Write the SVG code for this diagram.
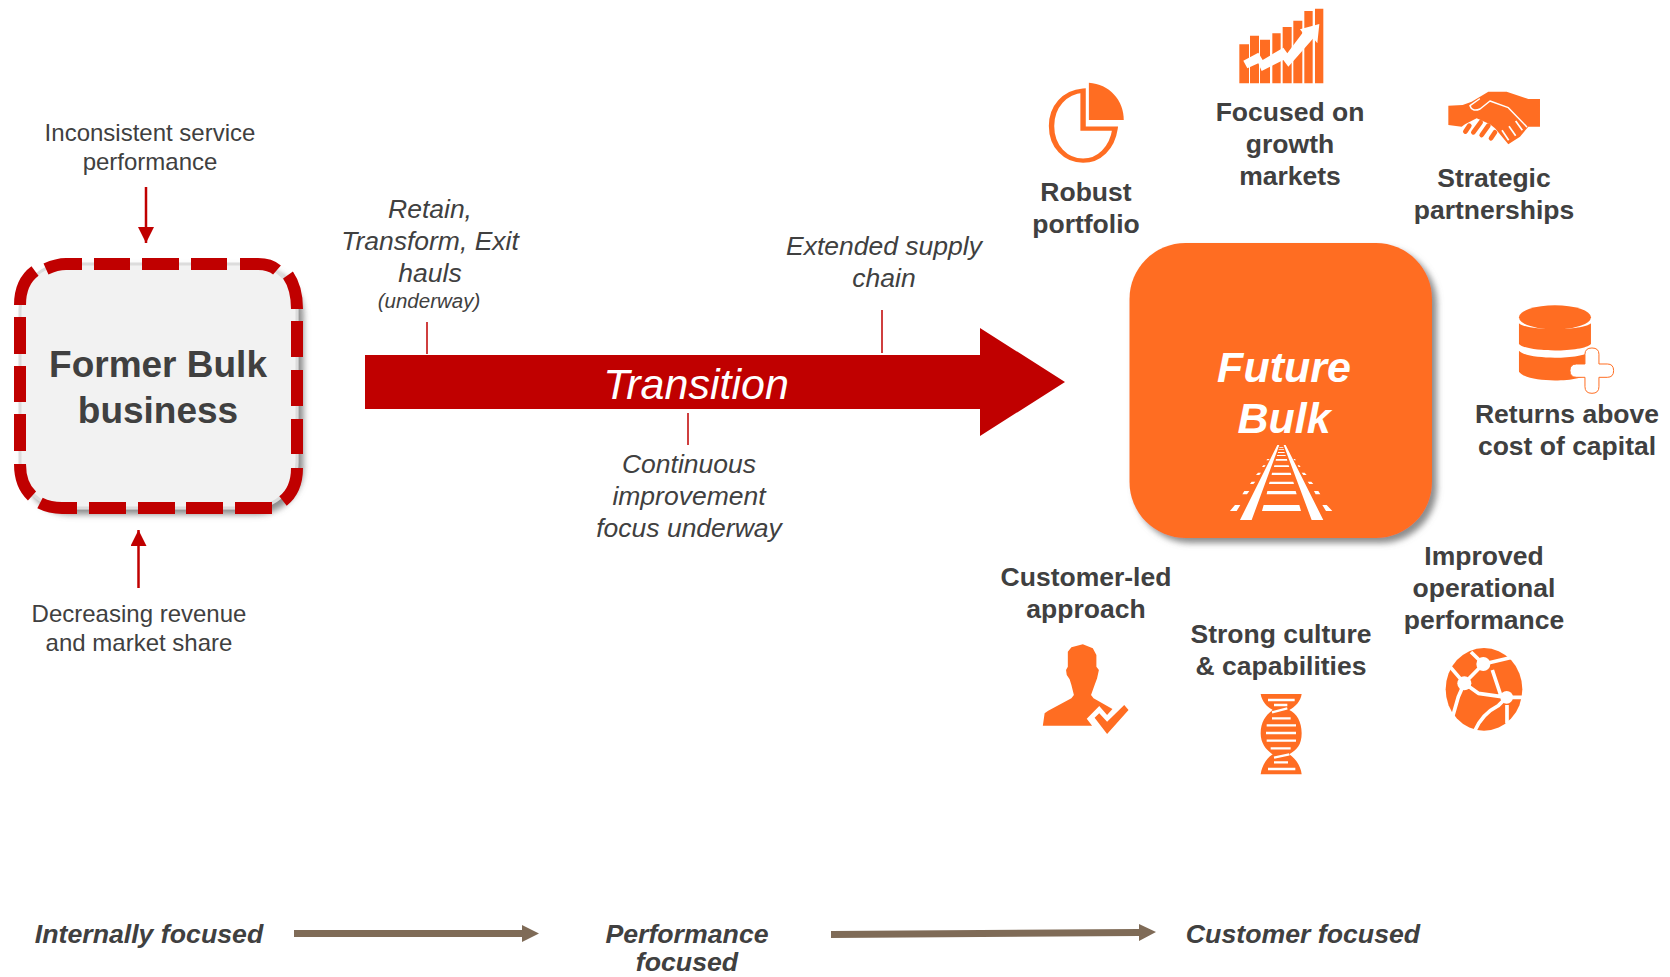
<svg xmlns="http://www.w3.org/2000/svg" width="1670" height="977" viewBox="0 0 1670 977">
<style>
text{font-family:"Liberation Sans",Arial,sans-serif;text-anchor:middle;fill:#404040}
.n{font-size:24px}
.b{font-size:26.500px;font-weight:bold}
.i{font-size:26.500px;font-style:italic}
.f{font-size:26.700px;font-weight:bold;font-style:italic}
.o{fill:#ff6d22}
.w{fill:none;stroke:#fff;stroke-linejoin:round}
.tick{stroke:#c00000;stroke-width:1.5;fill:none}
.red{stroke:#c00000;stroke-width:2.5;fill:none;marker-end:url(#rh)}
.brown{fill:#7f6b57}
</style>
<defs>
<filter id="sh" x="-10%" y="-10%" width="125%" height="125%"><feDropShadow dx="5" dy="5" stdDeviation="3" flood-color="#6f6f6f" flood-opacity=".8"/></filter>
<marker id="rh" markerUnits="userSpaceOnUse" markerWidth="18" markerHeight="16" refX="16" refY="8" orient="auto"><path d="M0 0L16 8L0 16Z" fill="#c00000"/></marker>
</defs>
<rect width="1670" height="977" fill="#fff"/>

<g id="former-bulk">
<rect x="20" y="264" width="277" height="244" rx="46" fill="#f2f2f2" stroke="#dcdcdc" stroke-width="3" filter="url(#sh)"/>
<path fill="none" stroke="#c00000" stroke-width="12" d="M46 269Q57 264 66 264H82M94 264H130M142 264H179M191 264H227M240 264H258Q270 264 277 270M288 275Q297 288 297 309M297 321V357M297 370V406M297 419V454M297 468Q297 490 283 501M272 508H235M223 508H186M175 508H138M126 508H89M77 508H62Q50 508 40 503M32 496Q20 485 20 464M20 451V414M20 402V366M20 354V317M20 305Q20 282 35 271"/>
<text x="158" y="377" font-size="37" font-weight="bold">Former Bulk</text>
<text x="158" y="423" font-size="37" font-weight="bold">business</text>
</g>

<g id="connectors">
<path class="red" d="M146 187V243"/>
<path class="red" d="M138.500 588V530"/>
<path class="tick" d="M427 322V354M882 310V353M688 413V445"/>
<path class="brown" d="M294 930H522V925L539 933.500L522 942V937H294Z"/>
<path class="brown" d="M831 931L1139 929V924L1156 932L1139 941V936L831 938Z"/>
</g>

<g id="transition">
<path fill="#c00000" d="M365 355H980V328L1065 382L980 436V409H365Z"/>
<text x="696" y="399" font-size="43" font-style="italic" style="fill:#fff">Transition</text>
</g>

<g id="label-inconsistent"><text class="n" x="150" y="141">Inconsistent service</text><text class="n" x="150" y="170">performance</text></g>
<g id="label-decreasing"><text class="n" x="139" y="622">Decreasing revenue</text><text class="n" x="139" y="651">and market share</text></g>
<g id="label-retain"><text class="i" x="430" y="218">Retain,</text><text class="i" x="430" y="250">Transform, Exit</text><text class="i" x="430" y="282">hauls</text><text x="429" y="308" font-size="20.500" font-style="italic">(underway)</text></g>
<g id="label-extended"><text class="i" x="884" y="255">Extended supply</text><text class="i" x="884" y="287">chain</text></g>
<g id="label-continuous"><text class="i" x="689" y="473">Continuous</text><text class="i" x="689" y="505">improvement</text><text class="i" x="689" y="537">focus underway</text></g>

<g id="future-bulk">
<rect x="1129.500" y="243" width="302.500" height="295" rx="56" class="o" filter="url(#sh)"/>
<text x="1284" y="382" font-size="43" font-weight="bold" font-style="italic" style="fill:#fff">Future</text>
<text x="1284" y="433" font-size="43" font-weight="bold" font-style="italic" style="fill:#fff">Bulk</text>
<g transform="translate(1130 230) scale(.3333)" fill="#fff">
<path d="M442 645H448L365 870H330ZM461 645H467L580 870H545Z"/>
<path d="M401 825H508L513 843H396ZM412 783H497L500 793H410ZM419 755H490L492 762H417ZM426 728H482L484 735H425ZM433 706H476L478 711H432ZM438 687H471L472 692H437ZM441 675H467V678H441ZM444 666H464V669H444ZM446 658H462V660H446ZM448 651H460V653H448Z"/>
<path d="M315 825H331L320 843H300ZM577 825H590L607 843H588ZM343 783H358L351 793H337ZM552 783H565L571 793H557ZM365 755H376L370 762H360ZM533 755H544L550 762H538ZM384 728H393L388 735H378ZM515 728H524L530 735H520ZM400 706H407L403 711H396ZM503 706H508L512 711H506ZM412 687H419L416 691H409ZM490 687H495L498 691H493Z"/>
</g>
</g>

<g id="robust-portfolio">
<g transform="translate(1020 0) scale(.415 .3333)">
<path class="o" d="M166 248C215 252 250 300 250 360H166Z"/>
<path fill="none" stroke="#ff6d22" stroke-width="13" d="M152 272V386H229C222 445 190 482 152 482C110 482 76 440 76 378C76 320 108 276 152 272Z"/>
</g>
<text class="b" x="1086" y="201">Robust</text><text class="b" x="1086" y="233">portfolio</text>
</g>

<g id="growth-markets">
<g transform="translate(1230 0) scale(.3333)">
<path class="o" d="M28 133H57V250H28ZM60 107H87V250H60ZM90 119H120V250H90ZM127 100H152V250H127ZM158 81H185V250H158ZM190 62H217V250H190ZM223 33H248V250H223ZM255 26H280V250H255Z"/>
<path fill="#fff" d="M40 182L85 158L98 180L160 143L172 160L218 98L210 88L268 72L262 130L250 115L175 200L160 180L95 213L85 190L52 205Z"/>
</g>
<text class="b" x="1290" y="121">Focused on</text><text class="b" x="1290" y="153">growth</text><text class="b" x="1290" y="185">markets</text>
</g>

<g id="partnerships">
<g transform="translate(1440 85) scale(.3333)">
<path class="o" d="M25 62L68 60L95 50L145 20H200L265 42H300V125H265L240 155L205 178L165 130L150 118L110 100L75 118L65 125L25 120Z"/>
<path fill="none" stroke="#ff6d22" stroke-width="14" stroke-linecap="round" d="M76 140L88 122M100 142L122 112M125 150L145 122M153 160L165 142"/>
<path fill="none" stroke="#fff" stroke-width="4.500" stroke-linecap="round" stroke-linejoin="round" d="M260 125L205 68L150 48L120 72Q96 82 90 62L118 42"/>
<path fill="none" stroke="#fff" stroke-width="5" d="M227 108L247 136M207 124L227 152M186 136L206 166"/>
</g>
<text class="b" x="1494" y="187">Strategic</text><text class="b" x="1494" y="219">partnerships</text>
</g>

<g id="returns">
<g transform="translate(1130 230) scale(.3333)">
<ellipse class="o" cx="1275" cy="262" rx="108" ry="36"/>
<path class="o" d="M1167 280C1190 303 1360 303 1383 280V342C1360 368 1190 368 1167 342Z"/>
<path class="o" d="M1167 362C1190 390 1360 390 1383 362V425C1360 460 1190 460 1167 425Z"/>
<path fill="#fff" stroke="#ff6d22" stroke-width="3" d="M1365 373Q1365 354 1386 354Q1407 354 1407 373V402H1432Q1451 402 1451 422Q1451 442 1432 442H1407V470Q1407 490 1386 490Q1365 490 1365 470V442H1340Q1320 442 1320 422Q1320 402 1340 402H1365Z"/>
</g>
<text class="b" x="1567" y="423">Returns above</text><text class="b" x="1567" y="455">cost of capital</text>
</g>

<g id="operational">
<g transform="translate(1435 640) scale(.3333)">
<ellipse class="o" cx="147" cy="148" rx="115" ry="124"/>
<path class="w" stroke-width="11" d="M108 36L145 72L175 65L238 50M145 72L88 130L45 80M88 130L70 170L50 240M88 130L130 160L215 172L270 172M172 90L197 165M215 172L190 197C160 212 135 235 118 275M216 195V250"/>
<circle cx="145" cy="72" r="21" fill="#fff"/><circle cx="88" cy="130" r="21" fill="#fff"/><circle cx="215" cy="172" r="19" fill="#fff"/>
</g>
<text class="b" x="1484" y="565">Improved</text><text class="b" x="1484" y="597">operational</text><text class="b" x="1484" y="629">performance</text>
</g>

<g id="culture">
<g transform="translate(1250 685) scale(.3333)">
<path class="o" d="M32 27H155C152 50 135 65 118 75C140 85 155 110 155 145C155 180 140 195 118 208C135 220 152 240 155 268H32C36 240 50 220 68 208C48 195 32 175 32 145C32 110 48 90 68 75C50 65 36 50 32 27Z"/>
<path fill="none" stroke="#fff" stroke-width="7" d="M54 45H134M72 60H112M66 82L112 70M66 100H122M50 121H138M48 144H138M50 167H138M62 190H122M72 218L118 208M72 232H114M54 252H136"/>
</g>
<text class="b" x="1281" y="643">Strong culture</text><text class="b" x="1281" y="675">&amp; capabilities</text>
</g>

<g id="customer-led">
<g transform="translate(1000 620) scale(.357 .3333)">
<path class="o" d="M120 317L125 280L135 272L200 235L207 225L200 195L195 178L187 165L185 150L190 140V95L200 82L232 73L260 85L270 105V140L277 150L272 175L265 195L255 225L262 235L315 267L300 285L278 258L243 296L258 317Z"/>
<path class="o" d="M265 293L278 280L300 305L348 255L360 270L300 342Z"/>
</g>
<text class="b" x="1086" y="586">Customer-led</text><text class="b" x="1086" y="618">approach</text>
</g>

<g id="focus-scale">
<text class="f" x="149" y="943">Internally focused</text>
<text class="f" x="687" y="943">Performance</text>
<text class="f" x="687" y="971">focused</text>
<text class="f" x="1303" y="943">Customer focused</text>
</g>
</svg>
